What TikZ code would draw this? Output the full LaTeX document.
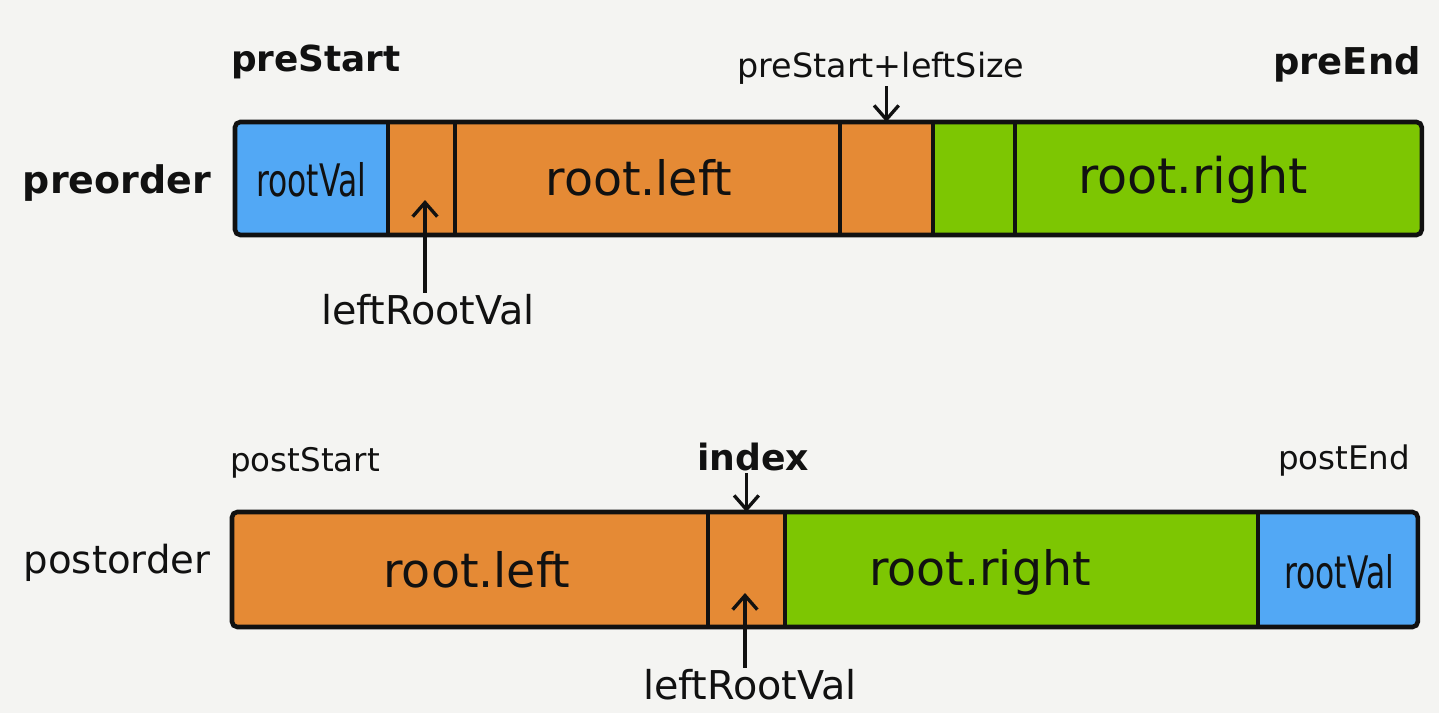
\documentclass[tikz,border=0pt]{standalone}
\usepackage{fontspec}
\setmainfont{DejaVu Sans}
\usepackage{graphicx}
\usetikzlibrary{arrows.meta,positioning,fit,calc}
\definecolor{paper}{HTML}{F4F4F2}
\definecolor{rootblue}{HTML}{52A8F5}
\definecolor{leftorange}{HTML}{E58A35}
\definecolor{rightgreen}{HTML}{7DC602}
\definecolor{ink}{HTML}{111111}
\tikzset{
  every node/.style={text=ink},
  cell/.style={inner sep=0pt,outer sep=0pt,minimum height=2.26cm},
  lcell/.style={cell,fill=leftorange},
  rcell/.style={cell,fill=rightgreen},
  vcell/.style={cell,fill=rootblue},
  outline/.style={draw=ink,line width=2.6pt,rounded corners=3pt,inner sep=0pt},
  divider/.style={draw=ink,line width=2.1pt},
  pointer/.style={-{Straight Barb[length=8pt,width=14pt,line width=1.9pt]},line width=1.9pt,draw=ink},
  tag/.style={inner sep=1pt,font=\fontsize{#1}{#1}\selectfont},
  boldtag/.style={inner sep=1pt,font=\fontsize{#1}{#1}\selectfont\bfseries},
  celltext/.style={inner sep=0pt,font=\fontsize{27}{27}\selectfont},
}
\newcommand{\narrowval}[1]{\scalebox{0.7}[1]{#1}}

\begin{document}
\begin{tikzpicture}[x=0.02cm,y=-0.02cm,node distance=0pt]
\path[use as bounding box,fill=paper] (0,0) rectangle (1439,713);

% preorder array
\node[vcell,minimum width=3.06cm,anchor=north west] (a1) at (235,122) {};
\node[lcell,minimum width=1.34cm,right=of a1] (a2) {};
\node[lcell,minimum width=7.70cm,right=of a2] (a3) {};
\node[lcell,minimum width=1.86cm,right=of a3] (a4) {};
\node[rcell,minimum width=1.64cm,right=of a4] (a5) {};
\node[rcell,minimum width=8.14cm,right=of a5] (a6) {};
\foreach \c in {a1,a2,a3,a4,a5}
  \draw[divider] (\c.north east) -- (\c.south east);
\node[outline,fit=(a1)(a6)] (pre) {};

\node[celltext,font=\fontsize{25.5}{25.5}\selectfont] (preval) at (311,180) {\narrowval{rootVal}};
\node[celltext] (preleft) at (639,178) {root.left};
\node[celltext,font=\fontsize{28}{28}\selectfont] (preright) at (1193,180) {root.right};

\node[boldtag=21.6] (preorder) at (117,183) {preorder};
\node[boldtag=20.4] (prestart) at (316,62) {preStart};
\node[tag=19] (psl) at (881,68) {preStart+leftSize};
\node[boldtag=21] (preend) at (1347,64) {preEnd};
\node[tag=22.6] (lrva) at (428,310) {leftRootVal};

\coordinate (a2tip) at (425,200);
\draw[pointer] (a4.north |- psl.south) -- (a4.north);
\draw[pointer] (a2tip |- lrva.north) -- (a2tip);

% postorder array
\node[lcell,minimum height=2.30cm,minimum width=9.52cm,anchor=north west] (b1) at (232,512) {};
\node[lcell,minimum height=2.30cm,minimum width=1.54cm,right=of b1] (b2) {};
\node[rcell,minimum height=2.30cm,minimum width=9.46cm,right=of b2] (b3) {};
\node[vcell,minimum height=2.30cm,minimum width=3.20cm,right=of b3] (b4) {};
\foreach \c in {b1,b2,b3}
  \draw[divider] (\c.north east) -- (\c.south east);
\node[outline,fit=(b1)(b4)] (post) {};

\node[celltext] (postleft) at (477,570) {root.left};
\node[celltext] (postright) at (980,572) {root.right};
\node[celltext,font=\fontsize{25.5}{25.5}\selectfont] (postval) at (1339,572) {\narrowval{rootVal}};

\node[tag=22] (postorder) at (117,563) {postorder};
\node[tag=18.5] (poststart) at (305,463) {postStart};
\node[boldtag=20.6] (index) at (753,457) {index};
\node[tag=18.5] (postend) at (1344,461) {postEnd};
\node[tag=22.6] (lrvb) at (750,685) {leftRootVal};

\coordinate (b2tip) at (745,593);
\draw[pointer] (b2.north |- index.south) -- (b2.north);
\draw[pointer] (b2tip |- lrvb.north) -- (b2tip);

\end{tikzpicture}
\end{document}
